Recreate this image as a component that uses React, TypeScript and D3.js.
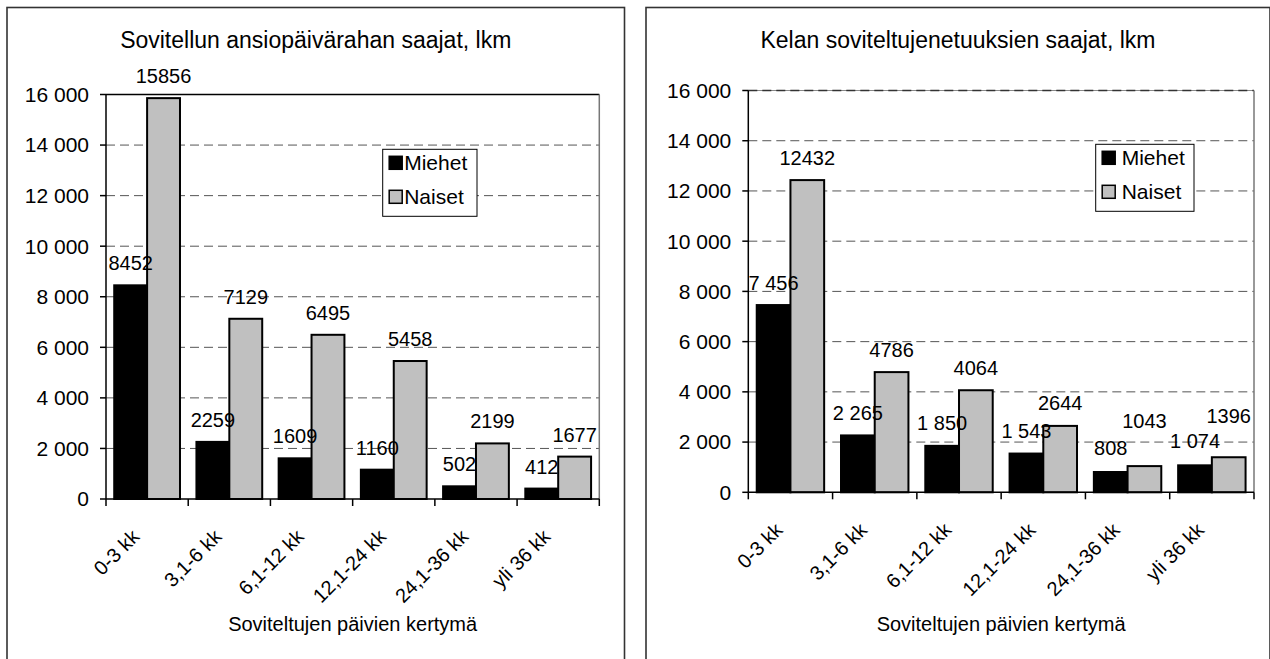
import React from "react";
import * as d3 from "d3";

const categories = ["0-3 kk", "3,1-6 kk", "6,1-12 kk", "12,1-24 kk", "24,1-36 kk", "yli 36 kk"];
const seriesNames = ["Miehet", "Naiset"];
const yTicks = [0, 2000, 4000, 6000, 8000, 10000, 12000, 14000, 16000];

const leftTitle = "Sovitellun ansiopäivärahan saajat, lkm";
const leftMiehet = [8452, 2259, 1609, 1160, 502, 412];
const leftNaiset = [15856, 7129, 6495, 5458, 2199, 1677];

const rightTitle = "Kelan soviteltujenetuuksien saajat, lkm";
const rightMiehet = [7456, 2265, 1850, 1543, 808, 1074];
const rightNaiset = [12432, 4786, 4064, 2644, 1043, 1396];

const xTitle = "Soviteltujen päivien kertymä";

const FONT = "'Liberation Sans', Arial, sans-serif";
const spaceLocale = d3.formatLocale({ decimal: ",", thousands: " ", grouping: [3], currency: ["", ""] });
const fmtSpace = spaceLocale.format(",");
const fmtPlain = d3.format("d");

const colors = ["#000000", "#C0C0C0"];

type PanelProps = {
  title: string;
  miehet: number[];
  naiset: number[];
  fmtM: (n: number) => string;
  fmtN: (n: number) => string;
  box: { x: number; y: number; w: number; h: number };
  plot: { x0: number; x1: number; yTop: number; yBottom: number };
  topSolid: boolean;
  legend: { x: number; y: number; w: number; h: number; sw: number; textDx: number };
  labelGap: number;
  nudgeM: number[];
  nudgeN: number[];
};

function Panel(p: PanelProps) {
  const { plot } = p;
  const x = d3.scaleBand<string>().domain(categories).range([plot.x0, plot.x1]).padding(0);
  const xs = d3.scaleBand<string>().domain(seriesNames).range([0, x.bandwidth()]).paddingInner(0).paddingOuter(0.25);
  const y = d3.scaleLinear().domain([0, 16000]).range([plot.yBottom, plot.yTop]);
  const values = [p.miehet, p.naiset];
  const fmts = [p.fmtM, p.fmtN];
  const nudges = [p.nudgeM, p.nudgeN];
  const cx = (plot.x0 + plot.x1) / 2;
  const panelCx = p.box.x + p.box.w / 2;
  const boundaries = [...categories.map((c) => x(c) as number), plot.x1];
  return (
    <g>
      <rect x={p.box.x} y={p.box.y} width={p.box.w} height={p.box.h} fill="white" stroke="#333" strokeWidth={1.6} />
      <text x={panelCx} y={48} textAnchor="middle" fontSize={23} fontFamily={FONT} fill="#000">{p.title}</text>
      {yTicks.filter((t) => t > 0).map((t) => (
        <line key={t} x1={plot.x0} x2={plot.x1} y1={y(t)} y2={y(t)} stroke="#555" strokeWidth={1} strokeDasharray="9,5" />
      ))}
      <line x1={plot.x0} x2={plot.x1} y1={plot.yTop} y2={plot.yTop} stroke={p.topSolid ? "#000" : "#888"} strokeWidth={p.topSolid ? 1.5 : 1} />
      {!p.topSolid && (
        <line x1={plot.x0} x2={plot.x1} y1={plot.yTop} y2={plot.yTop} stroke="#333" strokeWidth={1.5} strokeDasharray="9,5" />
      )}
      <line x1={plot.x1} x2={plot.x1} y1={plot.yTop} y2={plot.yBottom} stroke="#777" strokeWidth={1.5} />
      {categories.map((c, i) => (
        <g key={c}>
          {seriesNames.map((s, k) => (
            <rect key={s} x={(x(c) as number) + (xs(s) as number)} y={y(values[k][i])} width={xs.bandwidth()} height={plot.yBottom - y(values[k][i])} fill={colors[k]} stroke="#000" strokeWidth={2} />
          ))}
        </g>
      ))}
      {categories.map((c, i) => (
        <g key={c + "l"}>
          {seriesNames.map((s, k) => (
            <text key={s} x={(x(c) as number) + (xs(s) as number) + xs.bandwidth() / 2} y={y(values[k][i]) - p.labelGap - nudges[k][i]} textAnchor="middle" fontSize={20} fontFamily={FONT} fill="#000">{fmts[k](values[k][i])}</text>
          ))}
        </g>
      ))}
      <line x1={plot.x0} x2={plot.x0} y1={plot.yTop} y2={plot.yBottom} stroke="#000" strokeWidth={1.5} />
      {yTicks.map((t) => (
        <g key={t}>
          <line x1={plot.x0 - 6} x2={plot.x0} y1={y(t)} y2={y(t)} stroke="#000" strokeWidth={1.5} />
          <text x={plot.x0 - 17} y={y(t)} dy="0.35em" textAnchor="end" fontSize={21} fontFamily={FONT} fill="#000">{fmtSpace(t)}</text>
        </g>
      ))}
      <line x1={plot.x0} x2={plot.x1} y1={plot.yBottom} y2={plot.yBottom} stroke="#000" strokeWidth={1.5} />
      {boundaries.map((b, i) => (
        <line key={i} x1={b} x2={b} y1={plot.yBottom} y2={plot.yBottom + 7} stroke="#000" strokeWidth={1.5} />
      ))}
      {categories.map((c) => {
        const ax = (x(c) as number) + x.bandwidth() / 2 - 6.5;
        const ay = plot.yBottom + 39;
        return (
          <text key={c} x={ax} y={ay} textAnchor="end" fontSize={20} fontFamily={FONT} fill="#000" transform={`rotate(-45 ${ax} ${ay})`}>{c}</text>
        );
      })}
      <text x={cx} y={631} textAnchor="middle" fontSize={20} fontFamily={FONT} fill="#000">{xTitle}</text>
      <rect x={p.legend.x} y={p.legend.y} width={p.legend.w} height={p.legend.h} fill="white" stroke="#000" strokeWidth={1} />
      {seriesNames.map((s, k) => {
        const rowY = p.legend.y + 7 + k * 34;
        return (
          <g key={s}>
            <rect x={p.legend.x + p.legend.sw} y={rowY} width={13} height={13} fill={colors[k]} stroke="#000" strokeWidth={1.5} />
            <text x={p.legend.x + p.legend.textDx} y={rowY + 13.5} fontSize={21} fontFamily={FONT} fill="#000">{s}</text>
          </g>
        );
      })}
    </g>
  );
}

export default function App() {
  return (
    <svg width={1270} height={659} style={{ position: "absolute", left: 0, top: 0, background: "white" }}>
      <rect x={0} y={0} width={1270} height={659} fill="white" />
      <Panel
        title={leftTitle}
        miehet={leftMiehet}
        naiset={leftNaiset}
        fmtM={fmtPlain}
        fmtN={fmtPlain}
        box={{ x: 7, y: 7.5, w: 617.5, h: 700 }}
        plot={{ x0: 106, x1: 599.3, yTop: 94.5, yBottom: 499 }}
        topSolid={true}
        legend={{ x: 382.7, y: 149.3, w: 94.3, h: 67, sw: 6.5, textDx: 21.5 }}
        labelGap={15}
        nudgeM={[0, 0, 0, 0, 0, 0]}
        nudgeN={[0, 0, 0, 0, 0, 0]}
      />
      <Panel
        title={rightTitle}
        miehet={rightMiehet}
        naiset={rightNaiset}
        fmtM={fmtSpace}
        fmtN={fmtPlain}
        box={{ x: 646, y: 7.5, w: 624, h: 700 }}
        plot={{ x0: 748.3, x1: 1254, yTop: 90.5, yBottom: 492.3 }}
        topSolid={false}
        legend={{ x: 1095.7, y: 144.3, w: 98.3, h: 67, sw: 6.5, textDx: 26 }}
        labelGap={15.5}
        nudgeM={[0, 0, 0, 0, 1.5, 1.5]}
        nudgeN={[0, 0, 0, 0, 23, 19]}
      />
    </svg>
  );
}
